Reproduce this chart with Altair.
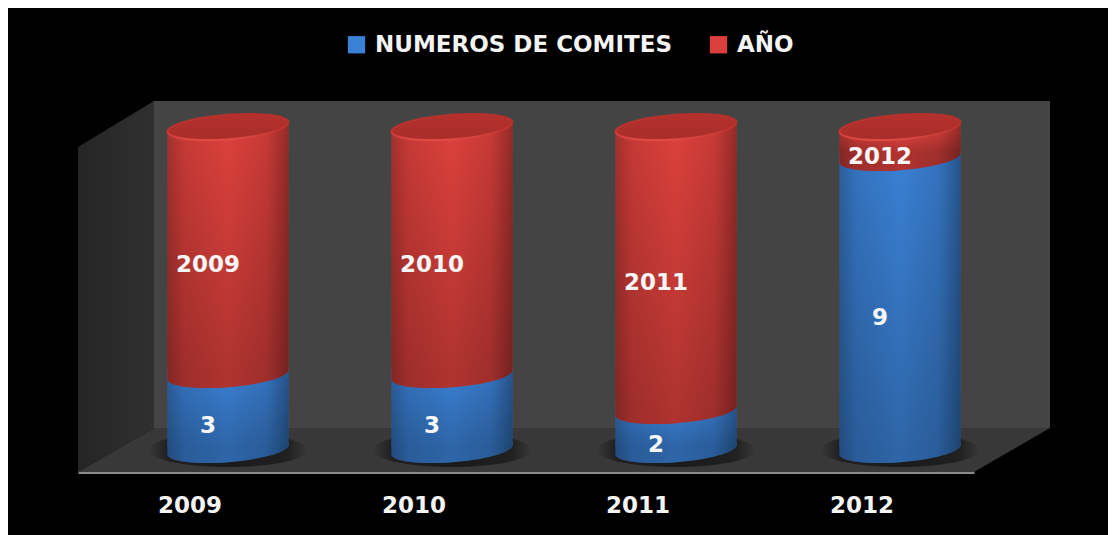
import altair as alt
import pandas as pd

YEARS = ["2009", "2010", "2011", "2012"]
BLUE_LABELS = ["3", "3", "2", "9"]
RED_LABELS = ["2009", "2010", "2011", "2012"]
BLUE_SHARE = [0.2308, 0.2308, 0.12, 0.8985]
FULL = [0.9938, 0.9938, 0.9938, 0.9938]
SERIES = ["NUMEROS DE COMITES", "AÑO"]
BLUE, RED = "#3a80d4", "#dc403c"
FONT = "DejaVu Sans"

blue = pd.DataFrame({"year": YEARS, "series": SERIES[0], "start": [0.0] * 4,
                     "end": BLUE_SHARE, "label": BLUE_LABELS})
red = pd.DataFrame({"year": YEARS, "series": SERIES[1], "start": BLUE_SHARE,
                    "end": FULL, "label": RED_LABELS})
one = pd.DataFrame({"a": [0]})

DX, DY, EDGE = 38, -22, 5.5
A, B, ROT = 60.7, 12.5, -4.5
X0, Y0 = 60.5, 4.7
ARC = f"A{A},{B},{ROT},0,1"
ELLIPSE = f"M{-X0},{Y0}{ARC},{X0},{-Y0}{ARC},{-X0},{Y0}Z"
LOWER_SOLID = f"M{-X0},-7L{X0},-7L{X0},{-Y0}{ARC},{-X0},{Y0}Z"
LOWER = f"M{-X0},{-EDGE}L{X0},{-EDGE}L{X0},{-Y0}{ARC},{-X0},{Y0}Z"
UPPER_SOLID = f"M{-X0},7L{-X0},{Y0}{ARC},{X0},{-Y0}L{X0},7Z"
UPPER = f"M{-X0},{EDGE}L{-X0},{Y0}{ARC},{X0},{-Y0}L{X0},{EDGE}Z"
SHADOW = "M-80,0A80,17,0,1,1,80,0A80,17,0,1,1,-80,0Z"

SHADE = {"gradient": "linear", "x1": 0, "x2": 1, "y1": 0, "y2": 0, "stops": [
    {"offset": 0, "color": "rgba(0,0,0,0.26)"},
    {"offset": 0.14, "color": "rgba(0,0,0,0.1)"},
    {"offset": 0.5, "color": "rgba(0,0,0,0)"},
    {"offset": 0.82, "color": "rgba(0,0,0,0.1)"},
    {"offset": 1, "color": "rgba(0,0,0,0.34)"}]}
FADE = {"gradient": "linear", "x1": 0, "x2": 0, "y1": 0, "y2": 1, "stops": [
    {"offset": 0, "color": "rgba(0,0,0,0)"},
    {"offset": 1, "color": "rgba(0,0,0,0.2)"}]}
POOL = {"gradient": "radial", "x1": 0.5, "y1": 0.5, "r1": 0, "x2": 0.5, "y2": 0.5, "r2": 0.5, "stops": [
    {"offset": 0, "color": "rgba(0,0,0,0.55)"},
    {"offset": 0.75, "color": "rgba(0,0,0,0.42)"},
    {"offset": 1, "color": "rgba(0,0,0,0)"}]}
SIDE = {"gradient": "linear", "x1": 0, "x2": 1, "y1": 0, "y2": 0, "stops": [
    {"offset": 0, "color": "#252525"},
    {"offset": 1, "color": "#303030"}]}
LID = {"gradient": "linear", "x1": 0, "x2": 0, "y1": 0, "y2": 1, "stops": [
    {"offset": 0, "color": "#b5302c"},
    {"offset": 1, "color": "#a82e2b"}]}
RIM = {"gradient": "linear", "x1": 0, "x2": 0, "y1": 0, "y2": 1, "stops": [
    {"offset": 0, "color": "#b5302c"},
    {"offset": 0.6, "color": "#bf3430"},
    {"offset": 1, "color": "#e04a45"}]}

x = alt.X("year:N", sort=YEARS, title=None,
          scale=alt.Scale(paddingInner=0, paddingOuter=0),
          axis=alt.Axis(labelAngle=0, ticks=False, domainColor="#8c8c8c", domainWidth=3,
                        labelColor="#f4f4f4", labelFont=FONT, labelFontSize=23,
                        labelFontWeight="bold", labelPadding=22, grid=False))
yscale = alt.Scale(domain=[0, 1])
color = alt.Color("series:N", title=None,
                  scale=alt.Scale(domain=SERIES, range=[BLUE, RED]),
                  legend=alt.Legend(orient="none", legendX=267, legendY=-114,
                                    direction="horizontal", columns=2, columnPadding=34,
                                    symbolType="square", symbolSize=300, symbolStrokeWidth=0,
                                    symbolOpacity=1, labelOffset=7, labelLimit=500,
                                    labelColor="#f4f4f4", labelFont=FONT, labelFontSize=23,
                                    labelFontWeight="bold"))


def wall(path, fill):
    return alt.Chart(one).mark_point(shape=path, size=4, filled=True, fill=fill, opacity=1,
                                     strokeWidth=0).encode(x=alt.value(0), y=alt.value(0))


def body(df, top, bottom, **enc):
    return alt.Chart(df).mark_bar(size=121, xOffset=DX, yOffset=DY + top, y2Offset=DY + bottom,
                                  **enc.pop("mark", {})).encode(
        x=x, y=alt.Y("end:Q", scale=yscale, axis=None), y2="start:Q", **enc)


def piece(df, field, path, fill, **mark):
    return alt.Chart(df).mark_point(shape=path, size=4, filled=True, fill=fill, opacity=1,
                                    strokeWidth=mark.pop("strokeWidth", 0), xOffset=DX, yOffset=DY,
                                    **mark).encode(
        x=x, y=alt.Y(f"{field}:Q", scale=yscale, axis=None))


def text(df):
    return alt.Chart(df).transform_calculate(mid="(datum.start + datum.end) / 2").mark_text(
        font=FONT, fontSize=23, fontWeight="bold", color="#f6f6f6", xOffset=18, yOffset=-8,
        align="center", baseline="middle").encode(
        x=x, y=alt.Y("mid:Q", scale=yscale, axis=None), text="label:N")


layers = [
    wall("M76,-46L972,-46L972,281L76,281Z", "#444444"),
    wall("M0,0L76,-46L76,281L0,325Z", SIDE),
    wall("M0,325L896,325L972,281L76,281Z", "#383838"),
    piece(blue, "start", SHADOW, POOL),
    # blue segment
    body(blue, -EDGE, -EDGE, color=color),
    piece(blue, "start", LOWER_SOLID, BLUE),
    body(blue, -EDGE, -EDGE, mark={"fill": FADE}),
    piece(blue, "start", LOWER, "rgba(0,0,0,0.2)"),
    body(blue, -EDGE, -EDGE, mark={"fill": SHADE}),
    piece(blue, "start", LOWER, SHADE),
    # red segment: the flat pieces first, so the translucent ones only ever meet edge to edge
    body(red, EDGE, -EDGE, color=color),
    piece(red, "start", LOWER_SOLID, RED),
    piece(red, "end", UPPER_SOLID, RED),
    body(red, EDGE, -EDGE, mark={"fill": FADE}),
    piece(red, "start", LOWER, "rgba(0,0,0,0.2)"),
    body(red, EDGE, -EDGE, mark={"fill": SHADE}),
    piece(red, "start", LOWER, SHADE),
    piece(red, "end", UPPER, SHADE),
    # lid
    piece(red, "end", ELLIPSE, LID, stroke=RIM, strokeWidth=2),
    text(blue),
    text(red),
]

chart = alt.layer(*layers).properties(
    width=896, height=325,
    padding={"left": 70, "top": 139, "right": 134, "bottom": 63},
    autosize=alt.AutoSizeParams(type="none"),
    background="#000000",
).configure_view(stroke=None)

chart.save("out.html", embed_options={"renderer": "svg", "actions": False})
